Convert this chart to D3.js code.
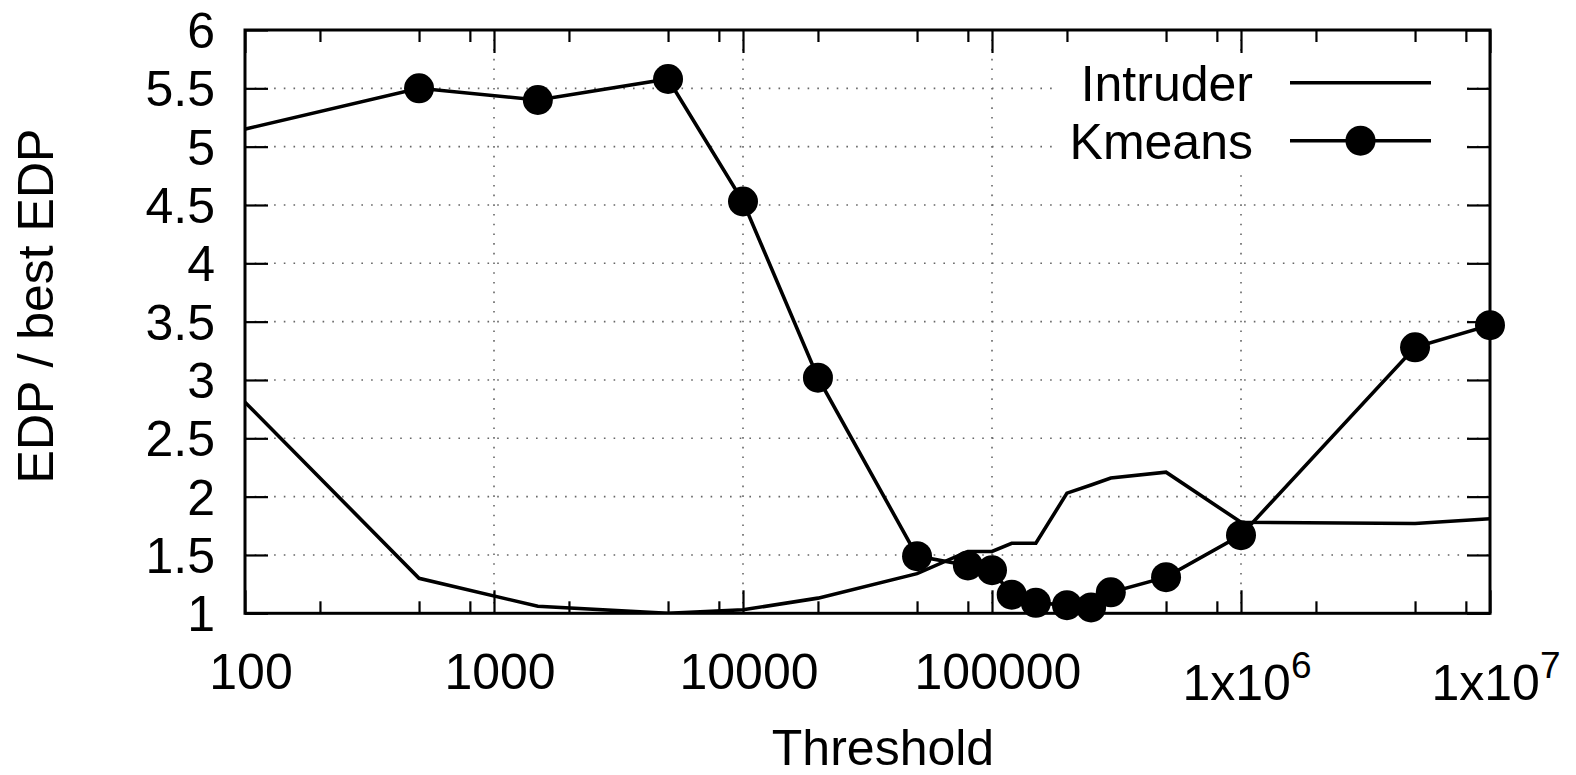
<!DOCTYPE html>
<html>
<head>
<meta charset="utf-8">
<script src="https://cdn.jsdelivr.net/npm/d3@7.9.0/dist/d3.min.js"></script>
<style>
  html, body { margin: 0; padding: 0; background: #fff; }
  svg { display: block; font-family: "Liberation Sans", Arial, sans-serif; }
  .domain { display: none; }
</style>
</head>
<body>
<svg id="chart" width="1576" height="775"></svg>
<script>
// data
const thresholds = [100, 500, 1500, 5000, 10000, 20000, 50000, 80000, 100000, 120000, 150000, 200000, 250000, 300000, 500000, 1e6, 5e6, 1e7];
const intruder = [2.81, 1.30, 1.06, 1.00, 1.03, 1.13, 1.34, 1.53, 1.53, 1.60, 1.60, 2.03, 2.10, 2.16, 2.21, 1.78, 1.77, 1.81];
// Kmeans line enters from the left edge, its first point lies outside the plotted range
const kmeansX = [50, 500, 1500, 5000, 10000, 20000, 50000, 80000, 100000, 120000, 150000, 200000, 250000, 300000, 500000, 1e6, 5e6, 1e7];
const kmeans = [5.0, 5.50, 5.40, 5.58, 4.53, 3.02, 1.49, 1.41, 1.37, 1.16, 1.09, 1.07, 1.05, 1.18, 1.31, 1.67, 3.28, 3.47];

const xMajor = [1e2, 1e3, 1e4, 1e5, 1e6, 1e7];
const xLabels = [['100'], ['1000'], ['10000'], ['100000'], ['1x10', '6'], ['1x10', '7']];
const xMinorMult = [2, 5, 8];
const yTicks = [1, 1.5, 2, 2.5, 3, 3.5, 4, 4.5, 5, 5.5, 6];
const yLabels = ['1', '1.5', '2', '2.5', '3', '3.5', '4', '4.5', '5', '5.5', '6'];
const seriesNames = ['Intruder', 'Kmeans'];

const svg = d3.select('#chart');
const area = { left: 245, right: 1490, top: 30, bottom: 613.3 };

const x = d3.scaleLog().domain([100, 1e7]).range([area.left, area.right]);
const y = d3.scaleLinear().domain([1, 6]).range([area.bottom, area.top]);

const xMinor = [];
for (let e = 2; e < 7; e++) xMinorMult.forEach(m => xMinor.push(m * Math.pow(10, e)));

// Gridlines (dotted)
const grid = svg.append('g')
  .attr('stroke', '#666')
  .attr('stroke-width', 1.6)
  .attr('stroke-dasharray', '1.6,8.1');
grid.selectAll('line.gy')
  .data(yTicks.slice(1, -1))
  .join('line')
  .attr('x1', area.left).attr('x2', area.right)
  .attr('y1', d => y(d)).attr('y2', d => y(d));
grid.selectAll('line.gx')
  .data(xMajor.slice(1, -1))
  .join('line')
  .attr('y1', area.bottom).attr('y2', area.top)
  .attr('x1', d => x(d)).attr('x2', d => x(d));

// Ticks, all pointing inwards, mirrored on top and right
const tickG = svg.append('g').attr('class', 'ticks');
const styleTicks = g => g.selectAll('line').attr('stroke', '#000').attr('stroke-width', 2.2);

tickG.append('g')
  .attr('transform', `translate(0,${area.bottom})`)
  .call(d3.axisBottom(x).tickValues(xMajor).tickFormat('').tickSize(-23))
  .call(styleTicks);
tickG.append('g')
  .attr('transform', `translate(0,${area.bottom})`)
  .call(d3.axisBottom(x).tickValues(xMinor).tickFormat('').tickSize(-12))
  .call(styleTicks);
tickG.append('g')
  .attr('transform', `translate(0,${area.top})`)
  .call(d3.axisTop(x).tickValues(xMajor).tickFormat('').tickSize(-23))
  .call(styleTicks);
tickG.append('g')
  .attr('transform', `translate(0,${area.top})`)
  .call(d3.axisTop(x).tickValues(xMinor).tickFormat('').tickSize(-12))
  .call(styleTicks);
tickG.append('g')
  .attr('transform', `translate(${area.left},0)`)
  .call(d3.axisLeft(y).tickValues(yTicks).tickFormat('').tickSize(-23))
  .call(styleTicks);
tickG.append('g')
  .attr('transform', `translate(${area.right},0)`)
  .call(d3.axisRight(y).tickValues(yTicks).tickFormat('').tickSize(-23))
  .call(styleTicks);

// Legend box (opaque key)
svg.append('rect')
  .attr('x', 1058).attr('y', 53)
  .attr('width', 404).attr('height', 118)
  .attr('fill', '#fff');

// Border
svg.append('rect')
  .attr('x', area.left).attr('y', area.top)
  .attr('width', area.right - area.left).attr('height', area.bottom - area.top)
  .attr('fill', 'none').attr('stroke', '#000').attr('stroke-width', 3);

// Tick labels
svg.append('g')
  .attr('font-size', 50)
  .attr('text-anchor', 'end')
  .selectAll('text')
  .data(yTicks)
  .join('text')
  .attr('x', 215)
  .attr('y', d => y(d) + 18)
  .text((d, i) => yLabels[i]);

const xl = svg.append('g')
  .attr('font-size', 50)
  .attr('text-anchor', 'middle')
  .selectAll('text')
  .data(xMajor)
  .join('text')
  .attr('x', d => x(d) + 6)
  .attr('y', (d, i) => xLabels[i].length > 1 ? 700 : 689);
xl.each(function (d, i) {
  const t = d3.select(this);
  const parts = xLabels[i];
  t.append('tspan').text(parts[0]);
  if (parts.length > 1) {
    t.append('tspan').attr('font-size', 37).attr('dy', -22).text(parts[1]);
  }
});

// Axis titles
svg.append('text')
  .attr('x', 883).attr('y', 765)
  .attr('font-size', 50)
  .attr('text-anchor', 'middle')
  .text('Threshold');
svg.append('text')
  .attr('transform', 'translate(53,306) rotate(-90)')
  .attr('font-size', 50)
  .attr('text-anchor', 'middle')
  .text('EDP / best EDP');

// Plot lines
svg.append('clipPath').attr('id', 'clip')
  .append('rect')
  .attr('x', area.left).attr('y', area.top)
  .attr('width', area.right - area.left).attr('height', area.bottom - area.top);

const line = d3.line().x(d => x(d[0])).y(d => y(d[1]));
const intruderPts = thresholds.map((t, i) => [t, intruder[i]]);
const kmeansPts = kmeansX.map((t, i) => [t, kmeans[i]]);

svg.append('path')
  .datum(intruderPts)
  .attr('clip-path', 'url(#clip)')
  .attr('d', line)
  .attr('fill', 'none').attr('stroke', '#000').attr('stroke-width', 3.6)
  .attr('stroke-linejoin', 'miter');

svg.append('path')
  .datum(kmeansPts)
  .attr('clip-path', 'url(#clip)')
  .attr('d', line)
  .attr('fill', 'none').attr('stroke', '#000').attr('stroke-width', 3.6);

svg.append('g')
  .selectAll('circle')
  .data(kmeansPts.filter(d => d[0] >= 100 && d[0] <= 1e7))
  .join('circle')
  .attr('cx', d => x(d[0]))
  .attr('cy', d => y(d[1]))
  .attr('r', 15)
  .attr('fill', '#000');

// Legend
const legend = svg.append('g').attr('font-size', 50);
const rowsY = [82.7, 140.7];
seriesNames.forEach((name, i) => {
  legend.append('text')
    .attr('x', 1253).attr('y', rowsY[i] + 18)
    .attr('text-anchor', 'end')
    .text(name);
  legend.append('line')
    .attr('x1', 1290).attr('x2', 1431)
    .attr('y1', rowsY[i]).attr('y2', rowsY[i])
    .attr('stroke', '#000').attr('stroke-width', 3.6);
  if (name === 'Kmeans') {
    legend.append('circle')
      .attr('cx', 1360.5).attr('cy', rowsY[i]).attr('r', 15)
      .attr('fill', '#000');
  }
});
</script>
</body>
</html>
